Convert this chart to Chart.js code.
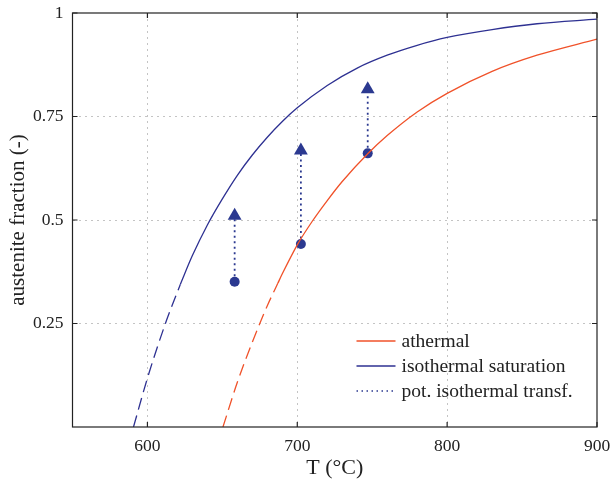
<!DOCTYPE html>
<html>
<head>
<meta charset="utf-8">
<script src="https://cdn.jsdelivr.net/npm/chart.js@4.4.1/dist/chart.umd.min.js"></script>
<style>
  html, body { margin: 0; padding: 0; background: #fff; }
  #wrap { width: 611px; height: 481px; }
</style>
</head>
<body>
<div id="wrap"><canvas id="fractionChart" width="611" height="481"></canvas></div>
<script>
// Austenite fraction vs. temperature
const tempAthermal = [650.4, 660, 670, 680, 687, 690, 700, 710, 720, 730, 747, 760, 780, 800, 830, 860, 900];
const fracAthermal = [0, 0.108, 0.205, 0.293, 0.347, 0.37, 0.44, 0.497, 0.547, 0.593, 0.66, 0.704, 0.761, 0.806, 0.859, 0.898, 0.937];
const athermalSolidFrom = 687;

const tempSaturation = [590.7, 600, 612, 622, 630, 640, 650, 660, 670, 680, 690, 700, 720, 740, 760, 780, 800, 830, 860, 900];
const fracSaturation = [0, 0.118, 0.25, 0.345, 0.414, 0.488, 0.551, 0.608, 0.657, 0.70, 0.738, 0.771, 0.825, 0.867, 0.898, 0.922, 0.941, 0.96, 0.974, 0.985];
const saturationSolidFrom = 622;

// potential isothermal transformation: start (on athermal curve) -> end (arrow head)
const transfTemp = [658.2, 702.4, 747.0];
const transfStart = [0.351, 0.442, 0.661];
const transfEnd = [0.51, 0.668, 0.816];

const xTicks = [600, 700, 800, 900];
const yTicks = [0.25, 0.5, 0.75, 1];

const redColor = '#f0522a';
const blueColor = '#2e3192';
const markerColor = '#2b3990';

function toPoints(xs, ys, keep) {
    const pts = [];
    for (let i = 0; i < xs.length; i++) {
        if (keep(xs[i])) pts.push({ x: xs[i], y: ys[i] });
    }
    return pts;
}

const datasets = [
    {
        label: 'athermal',
        data: toPoints(tempAthermal, fracAthermal, t => t >= athermalSolidFrom),
        borderColor: redColor, borderWidth: 1.3
    },
    {
        label: 'isothermal saturation',
        data: toPoints(tempSaturation, fracSaturation, t => t >= saturationSolidFrom),
        borderColor: blueColor, borderWidth: 1.3
    },
    {
        label: 'athermal (extrapolated)',
        data: toPoints(tempAthermal, fracAthermal, t => t <= athermalSolidFrom),
        borderColor: redColor, borderWidth: 1.3, borderDash: [12, 6]
    },
    {
        label: 'isothermal saturation (extrapolated)',
        data: toPoints(tempSaturation, fracSaturation, t => t <= saturationSolidFrom),
        borderColor: blueColor, borderWidth: 1.3, borderDash: [12, 6]
    }
];

transfTemp.forEach((t, i) => {
    datasets.push({
        label: 'pot. isothermal transf.',
        data: [{ x: t, y: transfStart[i] }, { x: t, y: transfEnd[i] }],
        borderColor: markerColor,
        borderWidth: 1.8,
        borderDash: [2, 3.5],
        tension: 0,
        pointStyle: ['circle', 'triangle'],
        pointRadius: [5, 8],
        pointBackgroundColor: markerColor,
        pointBorderColor: markerColor,
        pointBorderWidth: 0
    });
});

datasets.forEach((ds, i) => {
    ds.showLine = true;
    ds.fill = false;
    if (i < 4) {
        ds.pointRadius = 0;
        ds.cubicInterpolationMode = 'monotone';
    }
});

const serif = '"Liberation Serif", "DejaVu Serif", serif';

// frame with inward ticks on all four sides
const framePlugin = {
    id: 'frame',
    afterDatasetsDraw(chart) {
        const { ctx, chartArea: a, scales } = chart;
        ctx.save();
        ctx.strokeStyle = '#222';
        ctx.lineWidth = 1.2;
        ctx.strokeRect(a.left, a.top, a.right - a.left, a.bottom - a.top);
        const len = 5;
        ctx.beginPath();
        xTicks.forEach(v => {
            const px = scales.x.getPixelForValue(v);
            ctx.moveTo(px, a.bottom); ctx.lineTo(px, a.bottom - len);
            ctx.moveTo(px, a.top); ctx.lineTo(px, a.top + len);
        });
        yTicks.forEach(v => {
            const py = scales.y.getPixelForValue(v);
            ctx.moveTo(a.left, py); ctx.lineTo(a.left + len, py);
            ctx.moveTo(a.right, py); ctx.lineTo(a.right - len, py);
        });
        ctx.stroke();
        ctx.restore();
    }
};

// legend drawn inside the plot area, lower right
const innerLegend = {
    id: 'innerLegend',
    afterDraw(chart) {
        const { ctx, chartArea: a } = chart;
        const entries = [
            { text: 'athermal', color: redColor, dash: [] },
            { text: 'isothermal saturation', color: blueColor, dash: [] },
            { text: 'pot. isothermal transf.', color: markerColor, dash: [1.5, 3.5] }
        ];
        const x0 = a.left + 284, x1 = a.left + 323, tx = a.left + 329;
        let y = a.bottom - 86;
        ctx.save();
        ctx.font = '19.5px ' + serif;
        ctx.textBaseline = 'middle';
        ctx.fillStyle = '#222';
        entries.forEach(e => {
            ctx.beginPath();
            ctx.setLineDash(e.dash);
            ctx.strokeStyle = e.color;
            ctx.lineWidth = 1.3;
            ctx.moveTo(x0, y); ctx.lineTo(x1, y);
            ctx.stroke();
            ctx.setLineDash([]);
            ctx.fillText(e.text, tx, y + 1);
            y += 25;
        });
        ctx.restore();
    }
};

const gridColor = '#c4c4c4';

new Chart(document.getElementById('fractionChart').getContext('2d'), {
    type: 'scatter',
    data: { datasets: datasets },
    options: {
        responsive: false,
        animation: false,
        devicePixelRatio: 1,
        layout: { padding: { top: 13, right: 14, left: 0, bottom: 0 } },
        plugins: {
            legend: { display: false },
            tooltip: { enabled: false }
        },
        scales: {
            x: {
                type: 'linear',
                min: 550, max: 900,
                afterBuildTicks: s => { s.ticks = xTicks.map(v => ({ value: v })); },
                afterFit: s => {
                    s.height = 54;
                    s.paddingLeft = 0;
                    s.paddingRight = 0;
                },
                ticks: {
                    font: { family: serif, size: 17.5 }, color: '#222', padding: 9,
                    maxRotation: 0
                },
                grid: {
                    drawTicks: false,
                    color: c => (c.tick && c.tick.value < 900) ? gridColor : 'rgba(0,0,0,0)',
                    lineWidth: 1
                },
                border: { display: false, dash: [2, 4] },
                title: {
                    display: true, text: 'T (°C)',
                    font: { family: serif, size: 22 }, color: '#222', padding: { top: 4, bottom: 0 }
                }
            },
            y: {
                type: 'linear',
                min: 0, max: 1,
                afterBuildTicks: s => { s.ticks = yTicks.map(v => ({ value: v })); },
                afterFit: s => {
                    s.width = 72.5;
                    s.paddingTop = 0;
                    s.paddingBottom = 0;
                },
                ticks: {
                    font: { family: serif, size: 17.5 }, color: '#222', padding: 9,
                    callback: v => String(v)
                },
                grid: {
                    drawTicks: false,
                    color: c => (c.tick && c.tick.value < 1) ? gridColor : 'rgba(0,0,0,0)',
                    lineWidth: 1
                },
                border: { display: false, dash: [2, 4] },
                title: {
                    display: true, text: 'austenite fraction (-)',
                    font: { family: serif, size: 21 }, color: '#222', padding: { top: 6, bottom: 0 }
                }
            }
        }
    },
    plugins: [framePlugin, innerLegend]
});
</script>
</body>
</html>
